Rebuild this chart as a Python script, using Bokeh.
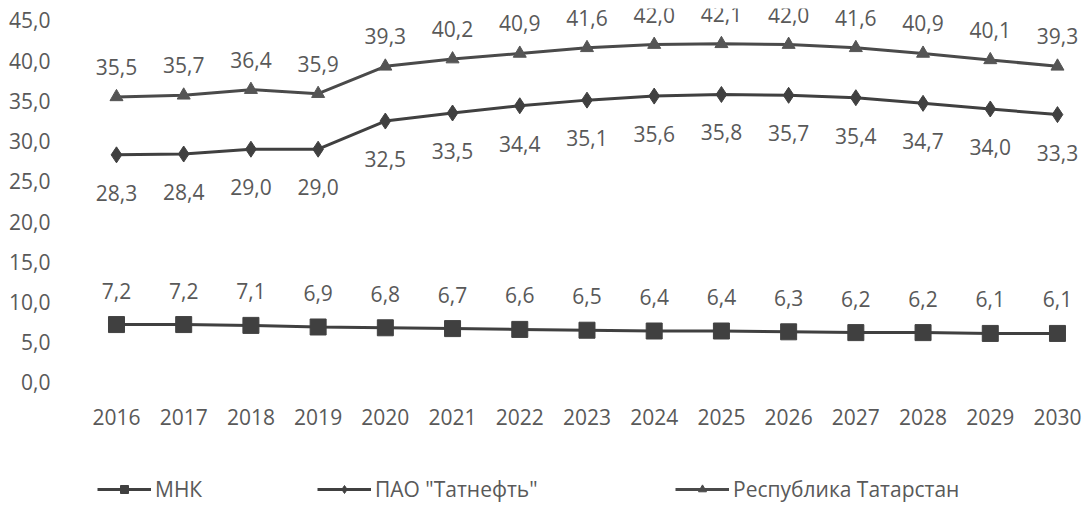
from bokeh.plotting import figure
from bokeh.models import Range1d, FixedTicker, Legend, LegendItem, ColumnDataSource
from bokeh.layouts import column
from bokeh.core.properties import value
from bokeh.embed import file_html
from bokeh.resources import INLINE

years = list(range(2016, 2031))
mnk = [7.2, 7.2, 7.1, 6.9, 6.8, 6.7, 6.6, 6.5, 6.4, 6.4, 6.3, 6.2, 6.2, 6.1, 6.1]
tatneft = [28.3, 28.4, 29.0, 29.0, 32.5, 33.5, 34.4, 35.1, 35.6, 35.8, 35.7, 35.4, 34.7, 34.0, 33.3]
tatarstan = [35.5, 35.7, 36.4, 35.9, 39.3, 40.2, 40.9, 41.6, 42.0, 42.1, 42.0, 41.6, 40.9, 40.1, 39.3]
series_names = ["МНК", "ПАО \"Татнефть\"", "Республика Татарстан"]
y_ticks = [0, 5, 10, 15, 20, 25, 30, 35, 40, 45]

FONT = "Open Sans"
TXT = "#595959"
LINE = "#404040"
RT_COLOR = "#4a4a4a"

def fmt(v):
    return f"{v:.1f}".replace(".", ",")

p = figure(width=1084, height=440, output_backend="svg", toolbar_location=None,
           x_range=Range1d(2015.167, 2030.402), y_range=Range1d(-0.746, 46.49),
           min_border_left=60, min_border_right=0, min_border_top=8, min_border_bottom=52)
p.outline_line_color = None
p.xgrid.visible = False
p.ygrid.visible = False

for ax in (p.xaxis[0], p.yaxis[0]):
    ax.axis_line_color = None
    ax.major_tick_line_color = None
    ax.minor_tick_line_color = None
    ax.major_label_text_font = FONT
    ax.major_label_text_font_size = "21px"
    ax.major_label_text_color = TXT

p.xaxis.ticker = FixedTicker(ticks=years)
p.xaxis.major_label_standoff = 14
p.yaxis.ticker = FixedTicker(ticks=y_ticks)
p.yaxis.major_label_overrides = {t: fmt(t) for t in y_ticks}
p.yaxis.major_label_standoff = 4

src = ColumnDataSource(dict(
    x=years, mnk=mnk, tat=tatneft, rt=tatarstan,
    mnk_l=[fmt(v) for v in mnk], tat_l=[fmt(v) for v in tatneft], rt_l=[fmt(v) for v in tatarstan],
))

p.line("x", "rt", source=src, line_color=RT_COLOR, line_width=3)
p.scatter("x", "rt", source=src, marker="triangle", size=13, fill_color="#555555", line_color="#555555")
p.line("x", "tat", source=src, line_color=LINE, line_width=3)
p.scatter("x", "tat", source=src, marker="diamond", size=16, fill_color=LINE, line_color=LINE)
p.line("x", "mnk", source=src, line_color=LINE, line_width=3)
p.scatter("x", "mnk", source=src, marker="square", size=16, fill_color=LINE, line_color=LINE)

common = dict(source=src, text_font=value(FONT), text_font_size="21px", text_color=TXT,
              text_align="center", text_baseline="middle")
p.text(x="x", y="rt", text="rt_l", y_offset=-30, **common)
p.text(x="x", y="tat", text="tat_l", y_offset=38, **common)
p.text(x="x", y="mnk", text="mnk_l", y_offset=-34, **common)

# legend strip (series drawn outside its range, so only the legend shows)
lf = figure(width=1084, height=64, output_backend="svg", toolbar_location=None,
            x_range=Range1d(0, 1), y_range=Range1d(0, 1),
            min_border_left=0, min_border_right=0, min_border_top=0, min_border_bottom=0)
lf.axis.visible = False
lf.xgrid.visible = False
lf.ygrid.visible = False
lf.outline_line_color = None

specs = [
    (series_names[0], "mnk", LINE, "square", 16, 37),
    (series_names[1], "tat", LINE, "diamond", 11, 257),
    (series_names[2], "rt", RT_COLOR, "triangle", 11, 615),
]
for name, col_name, col, mk, sz, xpos in specs:
    ln = lf.line("x", col_name, source=src, line_color=col, line_width=3)
    sc = lf.scatter("x", col_name, source=src, marker=mk, size=sz, fill_color=col, line_color=col)
    lg = Legend(items=[LegendItem(label=name, renderers=[ln, sc])], location=(xpos, 1))
    lg.label_text_font = FONT
    lg.label_text_font_size = "21px"
    lg.label_text_color = TXT
    lg.glyph_width = 54
    lg.glyph_height = 20
    lg.label_standoff = 4
    lg.padding = 0
    lg.margin = 0
    lg.border_line_color = None
    lg.background_fill_alpha = 0
    lf.add_layout(lg, "center")

layout = column(p, lf, spacing=0)
open("out.html", "w").write(file_html(layout, INLINE))
